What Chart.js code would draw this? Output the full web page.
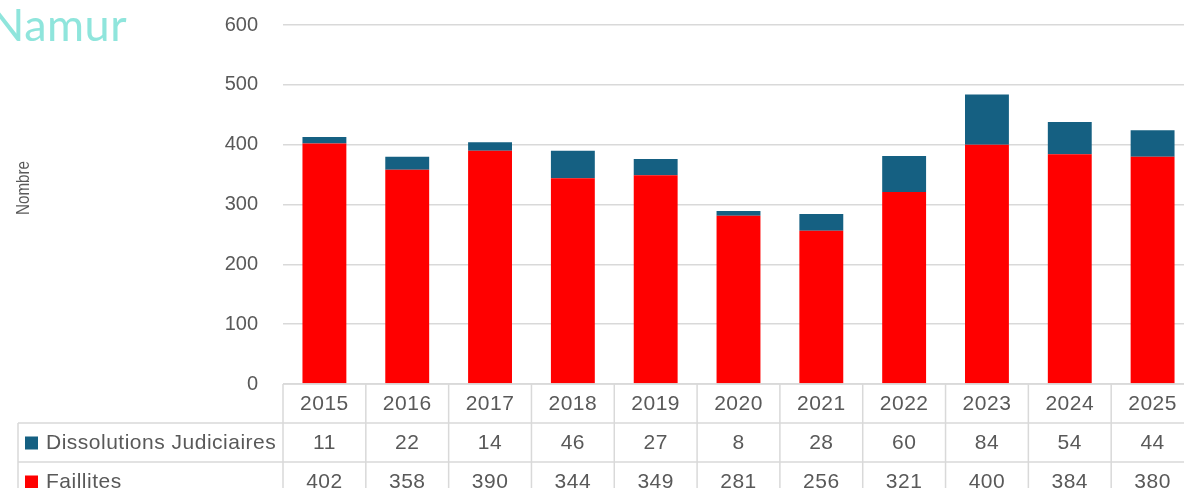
<!DOCTYPE html>
<html>
<head>
<meta charset="utf-8">
<script src="https://cdn.jsdelivr.net/npm/chart.js@4"></script>
<style>
  html, body { margin: 0; padding: 0; background: #fff; overflow: hidden; }
  #wrap { position: relative; width: 1184px; height: 488px; overflow: hidden; }
  #title { position: absolute; left: -10px; top: -3px; font: 400 45px Lato, "Open Sans", sans-serif; color: #8fe5dc; letter-spacing: 0.5px; }
  canvas { position: absolute; left: 0; top: 0; }
</style>
</head>
<body>
<div id="wrap">
  <canvas id="chart" width="1196" height="488"></canvas>
  <div id="title">Namur</div>
</div>
<script>
// data
const years = ['2015','2016','2017','2018','2019','2020','2021','2022','2023','2024','2025']
const dissolutions = [11, 22, 14, 46, 27, 8, 28, 60, 84, 54, 44]
const faillites = [402, 358, 390, 344, 349, 281, 256, 321, 400, 384, 380]
const yTicks = [0, 100, 200, 300, 400, 500, 600]

const RED = '#ff0000'
const BLUE = '#156082'
const GREY = '#595959'
const LINE = '#d9d9d9'
const FONT = '"Liberation Sans", Arial, sans-serif'

// excel-like data table under the bars
const dataTable = {
  id: 'dataTable',
  afterDraw(chart) {
    const ctx = chart.ctx
    const x = chart.scales.x
    const area = chart.chartArea
    const colW = x.getPixelForValue(1) - x.getPixelForValue(0)
    const top = area.bottom
    const rowH = 39
    const labelLeft = 18
    const right = x.getPixelForValue(years.length - 1) + colW / 2
    ctx.save()
    ctx.strokeStyle = LINE
    ctx.lineWidth = 1.5
    ctx.beginPath()
    // horizontal lines
    ctx.moveTo(area.left, top); ctx.lineTo(right, top)
    for (let r = 1; r <= 3; r++) {
      ctx.moveTo(labelLeft, top + r * rowH); ctx.lineTo(right, top + r * rowH)
    }
    // vertical lines
    ctx.moveTo(labelLeft, top + rowH); ctx.lineTo(labelLeft, top + 3 * rowH)
    for (let i = 0; i <= years.length; i++) {
      const px = x.getPixelForValue(0) - colW / 2 + i * colW
      ctx.moveTo(px, top); ctx.lineTo(px, top + 3 * rowH)
    }
    ctx.stroke()

    ctx.fillStyle = GREY
    ctx.font = '21px ' + FONT
    ctx.letterSpacing = '0.5px'
    ctx.textAlign = 'center'
    ctx.textBaseline = 'middle'
    const rows = [years, dissolutions, faillites]
    rows.forEach((row, r) => {
      row.forEach((v, i) => {
        ctx.fillText(String(v), x.getPixelForValue(i), top + r * rowH + rowH / 2 + 1)
      })
    })
    // row labels with legend keys
    const labels = [['Dissolutions Judiciaires', BLUE], ['Faillites', RED]]
    ctx.textAlign = 'left'
    labels.forEach(([txt, col], r) => {
      const cy = top + (r + 1) * rowH + rowH / 2
      ctx.fillStyle = col
      ctx.fillRect(25, cy - 6, 13, 13)
      ctx.fillStyle = GREY
      ctx.fillText(txt, 46, cy + 1)
    })

    // axis title (narrowed a bit)
    ctx.letterSpacing = '0px'
    ctx.translate(24, 188)
    ctx.rotate(-Math.PI / 2)
    ctx.scale(0.8, 1)
    ctx.textAlign = 'center'
    ctx.font = '19px ' + FONT
    ctx.fillText('Nombre', 0, 0)
    ctx.restore()
  }
}

new Chart(document.getElementById('chart'), {
  type: 'bar',
  data: {
    labels: years,
    datasets: [
      { label: 'Faillites', data: faillites, backgroundColor: RED },
      { label: 'Dissolutions Judiciaires', data: dissolutions, backgroundColor: BLUE }
    ]
  },
  options: {
    responsive: false,
    animation: false,
    devicePixelRatio: 1,
    layout: { autoPadding: false, padding: { left: 0, top: 25, right: 2, bottom: 104 } },
    datasets: { bar: { categoryPercentage: 1, barPercentage: 0.53 } },
    plugins: { legend: { display: false }, tooltip: { enabled: false } },
    scales: {
      x: { stacked: true, display: false },
      y: {
        stacked: true,
        min: yTicks[0],
        max: yTicks[yTicks.length - 1],
        afterBuildTicks: s => { s.ticks = yTicks.map(v => ({ value: v })) },
        // fixed axis width, and drop the label overhang so the plot starts at y=25
        afterFit: s => { s.width = 283; s.paddingTop = 0; s.paddingBottom = 0 },
        border: { display: false },
        grid: { color: LINE, lineWidth: 1.5, drawTicks: false },
        ticks: { color: GREY, padding: 25, font: { size: 20, family: FONT } }
      }
    }
  },
  plugins: [dataTable]
})
</script>
</body>
</html>
